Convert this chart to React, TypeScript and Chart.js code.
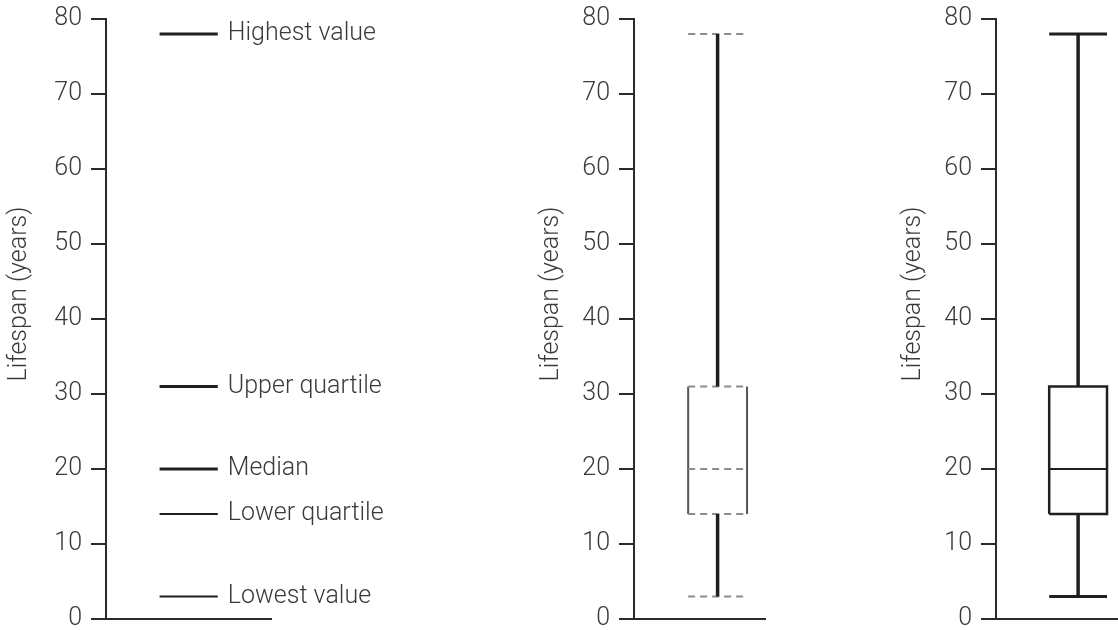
import React, { useEffect, useRef } from "react";
import { Chart, registerables } from "chart.js";

Chart.register(...registerables);

// ---- data ----
const statLabels = ["Highest value", "Upper quartile", "Median", "Lower quartile", "Lowest value"];
const statValues = [78, 31, 20, 14, 3];
const yTickValues = [0, 10, 20, 30, 40, 50, 60, 70, 80];
const axisTitle = "Lifespan (years)";

const [highest, upperQ, median, lowerQ, lowest] = statValues;

// ---- styles ----
const FONT = '"Roboto", "Liberation Sans", Arial, sans-serif';
const FONT_SIZE = 25;
const TEXT = "#3a3a3a";
const INK = "#1f1f1f";
const AXIS = "#2b2b2b";
const GREY = "#8c8c8c";
const W = 1118;
const H = 630;

type Panel = {
  kind: "key" | "dashed" | "box";
  axisX: number;
  rightPad: number;
  xMax: number;
  titleOffset: number;
};

const panels: Panel[] = [
  { kind: "key", axisX: 106, rightPad: W - 271, xMax: 2.414, titleOffset: 80 },
  { kind: "dashed", axisX: 634, rightPad: W - 765, xMax: 1.805, titleOffset: 76 },
  { kind: "box", axisX: 996, rightPad: 0, xMax: 1.69, titleOffset: 76 },
];

function seg(x1: number, y1: number, x2: number, y2: number, width: number, color: string, dash: number[] = []) {
  return {
    data: [
      { x: x1, y: y1 },
      { x: x2, y: y2 },
    ],
    borderColor: color,
    borderWidth: width,
    borderDash: dash,
    borderCapStyle: "butt",
    pointRadius: 0,
    fill: false,
    tension: 0,
  };
}

function buildDatasets(kind: Panel["kind"]) {
  if (kind === "key") {
    return statValues.map((v, i) => seg(0.5, v, 1.5, v, i < 3 ? 3 : 2, INK));
  }
  if (kind === "dashed") {
    const dash = [7, 5];
    return [
      seg(1, upperQ, 1, highest, 3.5, INK),
      seg(1, lowest, 1, lowerQ, 3.5, INK),
      seg(0.5, highest, 1.5, highest, 2, GREY, dash),
      seg(0.5, upperQ, 1.5, upperQ, 2, GREY, dash),
      seg(0.5, median, 1.5, median, 2, GREY, dash),
      seg(0.5, lowerQ, 1.5, lowerQ, 2, GREY, dash),
      seg(0.5, lowest, 1.5, lowest, 2, GREY, dash),
      seg(0.5, lowerQ, 0.5, upperQ, 2, "#555555"),
      seg(1.5, lowerQ, 1.5, upperQ, 2, "#555555"),
    ];
  }
  return [
    seg(1, upperQ, 1, highest, 3.5, INK),
    seg(1, lowest, 1, lowerQ, 3.5, INK),
    seg(0.5, highest, 1.5, highest, 3, INK),
    seg(0.5, lowest, 1.5, lowest, 3, INK),
    {
      data: [
        { x: 0.5, y: lowerQ },
        { x: 1.5, y: lowerQ },
        { x: 1.5, y: upperQ },
        { x: 0.5, y: upperQ },
        { x: 0.5, y: lowerQ },
      ],
      borderColor: INK,
      borderWidth: 2.5,
      borderJoinStyle: "miter",
      borderCapStyle: "butt",
      pointRadius: 0,
      fill: false,
      tension: 0,
    },
    seg(0.5, median, 1.5, median, 2, INK),
  ];
}

function PanelChart({ panel }: { panel: Panel }) {
  const ref = useRef<HTMLCanvasElement | null>(null);
  useEffect(() => {
    if (!ref.current) return;
    const textPlugin = {
      id: "panelText",
      afterDraw(chart: any) {
        const { ctx, chartArea, scales } = chart;
        ctx.save();
        ctx.fillStyle = TEXT;
        ctx.font = `300 ${FONT_SIZE}px ${FONT}`;
        // axis title
        ctx.save();
        ctx.translate(chartArea.left - panel.titleOffset, chartArea.top + 275);
        ctx.rotate(-Math.PI / 2);
        ctx.textAlign = "center";
        ctx.textBaseline = "alphabetic";
        ctx.fillText(axisTitle, 0, 0);
        ctx.restore();
        if (panel.kind === "key") {
          ctx.textAlign = "left";
          ctx.textBaseline = "middle";
          const x = scales.x.getPixelForValue(1.5) + 10;
          statValues.forEach((v, i) => {
            ctx.fillText(statLabels[i], x, scales.y.getPixelForValue(v));
          });
        }
        ctx.restore();
      },
    };
    const chart = new Chart(ref.current, {
      type: "line",
      data: { datasets: buildDatasets(panel.kind) as any },
      options: {
        animation: false,
        responsive: false,
        events: [],
        layout: { padding: { left: 0, top: 19, right: panel.rightPad, bottom: 0 } },
        plugins: { legend: { display: false }, tooltip: { enabled: false }, title: { display: false } },
        scales: {
          x: {
            type: "linear",
            min: -0.42,
            max: panel.xMax,
            ticks: { display: false },
            grid: { display: false, drawTicks: false },
            border: { display: true, color: AXIS, width: 2 },
            afterFit: (s: any) => {
              s.height = 11;
              s.paddingLeft = 0;
              s.paddingRight = 0;
            },
          },
          y: {
            type: "linear",
            min: 0,
            max: 80,
            afterBuildTicks: (s: any) => {
              s.ticks = yTickValues.map((v) => ({ value: v }));
            },
            ticks: {
              padding: 9,
              color: TEXT,
              autoSkip: false,
              font: { family: FONT, size: FONT_SIZE, weight: "300" as any },
            },
            grid: { display: true, drawOnChartArea: false, drawTicks: true, tickLength: 15, color: AXIS, lineWidth: 2 },
            border: { display: true, color: AXIS, width: 2 },
            afterFit: (s: any) => {
              s.width = panel.axisX;
              s.paddingTop = 0;
              s.paddingBottom = 0;
            },
          },
        },
      } as any,
      plugins: [textPlugin],
    });
    return () => chart.destroy();
  }, [panel]);
  return (
    <canvas
      ref={ref}
      width={W}
      height={H}
      style={{ position: "absolute", left: 0, top: 0, width: W, height: H, display: "block" }}
    />
  );
}

export default function App() {
  return (
    <div style={{ position: "fixed", left: 0, top: 0, width: W, height: H, background: "#ffffff", overflow: "hidden" }}>
      {panels.map((p, i) => (
        <PanelChart key={i} panel={p} />
      ))}
    </div>
  );
}
